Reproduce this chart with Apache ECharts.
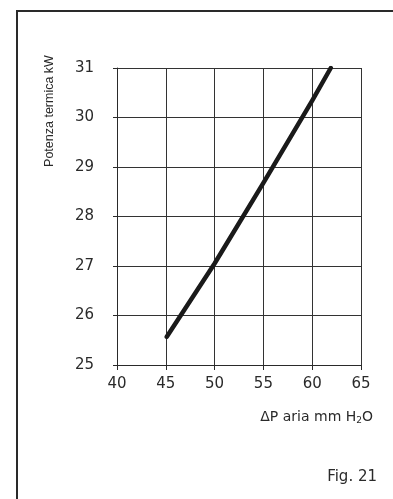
<!DOCTYPE html>
<html><head><meta charset="utf-8">
<script src="https://cdn.jsdelivr.net/npm/echarts@6/dist/echarts.min.js"></script>
<style>html,body{margin:0;padding:0;background:#fff}#c{width:393px;height:499px}</style>
</head><body><div id="c"></div>
<script>
var pressure = [45.1, 50, 55, 60, 61.9];
var power = [25.57, 27.05, 28.68, 30.34, 31];
var xTicks = [40, 45, 50, 55, 60, 65];
var yTicks = [25, 26, 27, 28, 29, 30, 31];
var xTitle = 'ΔP aria mm H{s|2}O';
var yTitle = 'Potenza termica kW';
var figLabel = 'Fig. 21';

var chart = echarts.init(document.getElementById('c'), null, {renderer: 'canvas'});
var tickFont = {fontFamily: 'DejaVu Sans', fontSize: 15, color: '#2a2a2a'};
chart.setOption({
  animation: false,
  backgroundColor: '#fff',
  grid: {left: 117, right: 32, top: 68, bottom: 134},
  xAxis: {
    type: 'value', min: xTicks[0], max: xTicks[xTicks.length - 1], interval: 5,
    axisLine: {show: true, lineStyle: {color: '#2a2a2a', width: 1}},
    axisTick: {show: true, length: 5, lineStyle: {color: '#2a2a2a'}},
    splitLine: {show: true, lineStyle: {color: '#333', width: 1}},
    axisLabel: Object.assign({margin: 12}, tickFont)
  },
  yAxis: {
    type: 'value', min: yTicks[0], max: yTicks[yTicks.length - 1], interval: 1,
    axisLine: {show: true, lineStyle: {color: '#2a2a2a', width: 1}},
    axisTick: {show: true, length: 4, lineStyle: {color: '#2a2a2a'}},
    splitLine: {show: true, lineStyle: {color: '#333', width: 1}},
    axisLabel: Object.assign({margin: 23}, tickFont)
  },
  series: [{
    type: 'line',
    data: pressure.map(function (p, i) { return [p, power[i]]; }),
    showSymbol: false,
    lineStyle: {color: '#1a1a1a', width: 4.5, cap: 'round', join: 'round'}
  }],
  graphic: [
    {type: 'rect', silent: true, shape: {x: 17, y: 11, width: 420, height: 520},
     style: {fill: 'none', stroke: '#2a2a2a', lineWidth: 2}},
    {type: 'text', x: 50, y: 111, rotation: Math.PI / 2,
     style: {text: yTitle, fontFamily: 'Liberation Sans', fontSize: 12.5, fill: '#2a2a2a',
             align: 'center', verticalAlign: 'middle'}},
    {type: 'text', x: 373, y: 417,
     style: {text: xTitle, fontFamily: 'DejaVu Sans', fontSize: 14, fill: '#2a2a2a',
             align: 'right', verticalAlign: 'middle',
             rich: {s: {fontFamily: 'DejaVu Sans', fontSize: 9, fill: '#2a2a2a', padding: [8, 0, 0, 0]}}}},
    {type: 'text', x: 377, y: 477,
     style: {text: figLabel, fontFamily: 'DejaVu Sans', fontSize: 15, fill: '#2a2a2a',
             align: 'right', verticalAlign: 'middle'}}
  ]
});
</script></body></html>
